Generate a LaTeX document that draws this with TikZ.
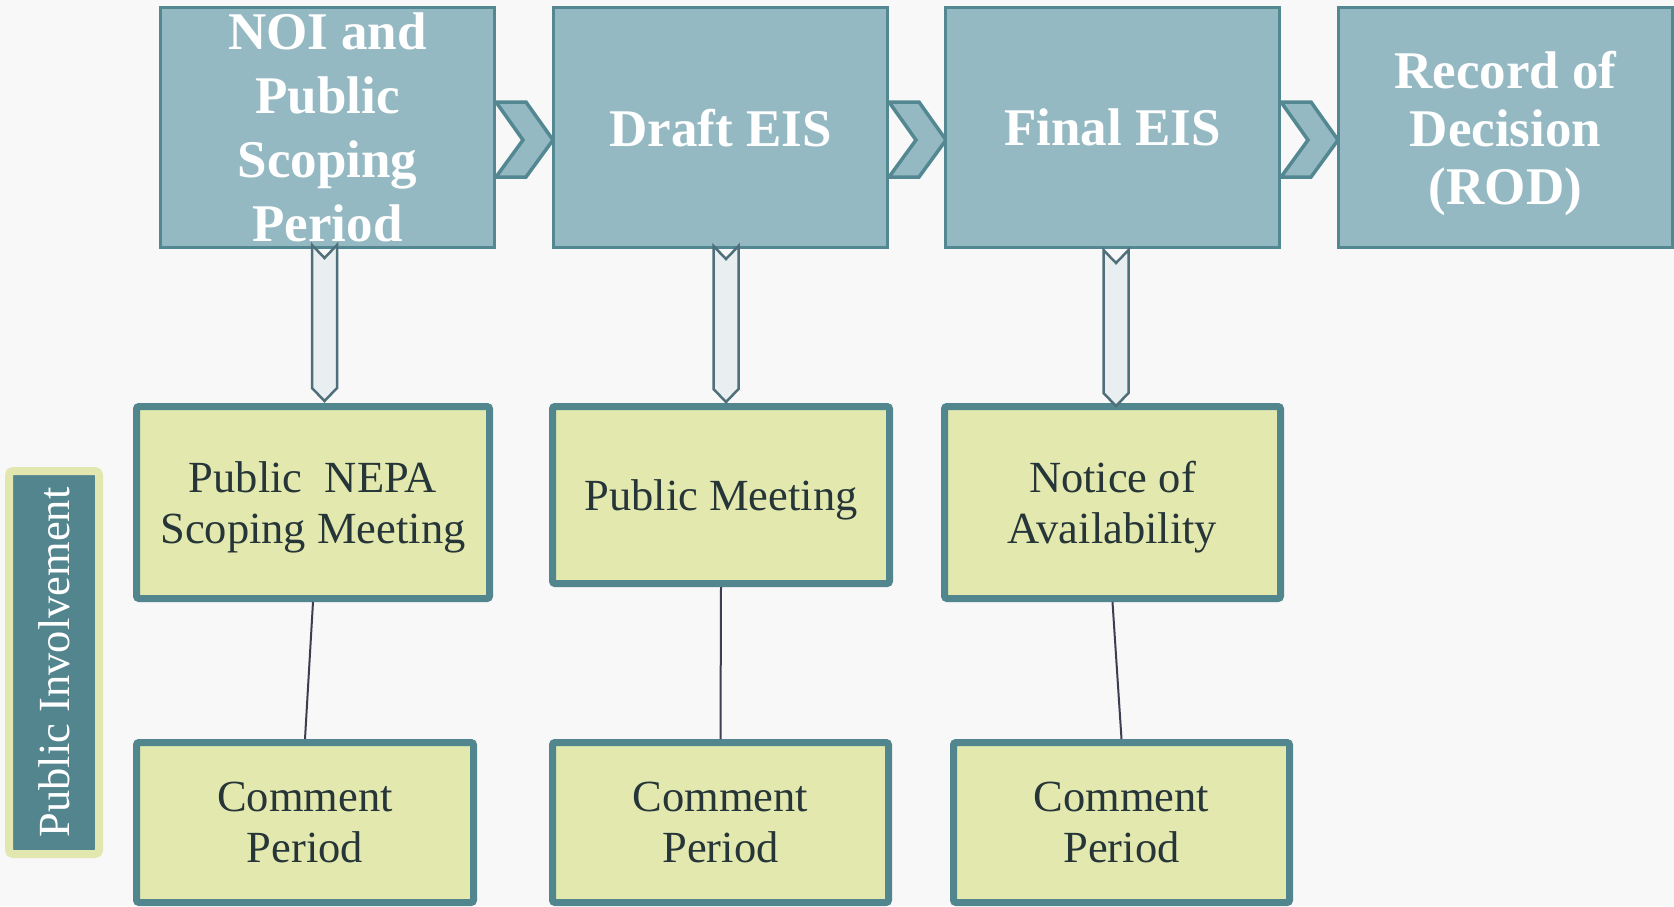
\documentclass[tikz,border=0pt]{standalone}
\usepackage{fontspec}
\setmainfont{Liberation Serif}
\usetikzlibrary{calc}
\definecolor{topfill}{HTML}{95B9C2}
\definecolor{topline}{HTML}{538892}
\definecolor{midfill}{HTML}{E3E8AE}
\definecolor{midline}{HTML}{52868F}
\definecolor{txtcol}{HTML}{263538}
\definecolor{arrfill}{HTML}{E9EEF0}
\definecolor{arrline}{HTML}{4F6F7A}
\definecolor{conncol}{HTML}{3C3F50}
\definecolor{bgcol}{HTML}{F8F8F8}
\definecolor{sidefill}{HTML}{53858F}
\definecolor{sideline}{HTML}{E2E7AF}
\begin{document}
\begin{tikzpicture}[x=1pt,y=-1pt,
  topbox/.style={draw=topline, fill=topfill, line width=3pt, minimum width=334pt, minimum height=240pt, inner sep=0pt},
  toptext/.style={text=white, font=\fontsize{53}{64}\selectfont\bfseries, align=center, inner sep=0pt, text depth=0pt},
  midbox/.style={draw=midline, fill=midfill, line width=7pt, rounded corners=2.5pt, inner sep=0pt, text=txtcol, font=\fontsize{44.5}{51}\selectfont, align=center, text depth=0pt},
  chev/.style={draw=topline, fill=topfill, line width=3.5pt, line join=miter},
  darrow/.style={draw=arrline, fill=arrfill, line width=2.5pt},
  connline/.style={draw=conncol, line width=2pt},
  chevron/.pic={\path[chev] (0,-38) -- (30,-38) -- (57,0) -- (30,37) -- (0,37) -- (27,0) -- cycle;},
  dnarrow/.pic={\path[darrow] (-12.5,0) -- (0,13) -- (12.5,0) -- (12.5,143) -- (0,156) -- (-12.5,143) -- cycle;}
]
\fill[bgcol] (0,0) rectangle (1674,906);
\useasboundingbox (0,0) rectangle (1674,906);

% top row boxes (positions only)
\coordinate (p1) at (327.5,127.5);
\coordinate (p2) at (720.5,127.5);
\coordinate (p3) at (1112.5,127.5);
\coordinate (p4) at (1505.5,127.5);

% chevrons first (under boxes)
\path (p1) ++(168.5,12.5) coordinate (c1);
\path (p2) ++(168.5,12.5) coordinate (c2);
\path (p3) ++(168.5,12.5) coordinate (c3);
\pic at (c1) {chevron};
\pic at (c2) {chevron};
\pic at (c3) {chevron};

\node[topbox] (t1) at (p1) {};
\node[topbox] (t2) at (p2) {};
\node[topbox] (t3) at (p3) {};
\node[topbox] (t4) at (p4) {};

\node[toptext] (t1txt) at (t1.center) {NOI and\\Public\\Scoping\\Period};
\node[toptext] (t2txt) at (t2.center) {Draft EIS};
\node[toptext] (t3txt) at (t3.center) {Final EIS};
\node[toptext, font=\fontsize{53}{58}\selectfont\bfseries] (t4txt) at (t4.center) {Record of\\Decision\\(ROD)};

% middle row
\node[midbox, minimum width=353pt, minimum height=192pt] (m1) at (313,502.5) {Public\ \ NEPA\\Scoping Meeting};
\node[midbox, minimum width=337pt, minimum height=177pt] (m2) at (721,495) {Public Meeting};
\node[midbox, minimum width=336pt, minimum height=192pt] (m3) at (1112.5,502.5) {Notice of\\Availability};

% bottom row
\node[midbox, minimum width=337pt, minimum height=160pt] (b1) at (305,822.5) {Comment\\Period};
\node[midbox, minimum width=336pt, minimum height=160pt] (b2) at (720.5,822.5) {Comment\\Period};
\node[midbox, minimum width=336pt, minimum height=160pt] (b3) at (1121.5,822.5) {Comment\\Period};

% connectors
\draw[connline] (m1.south) -- (b1.north);
\draw[connline] (m2.south) -- (b2.north);
\draw[connline] (m3.south) -- (b3.north);

% down block arrows
\coordinate (a1) at (324.5,245);
\coordinate (a2) at (726,246);
\coordinate (a3) at (1116,250);
\pic at (a1) {dnarrow};
\pic at (a2) {dnarrow};
\pic at (a3) {dnarrow};

% side label
\node[draw=sideline, fill=sidefill, line width=8pt, rounded corners=4pt,
      minimum width=90pt, minimum height=383pt, inner sep=0pt] (side) at (54,662.5) {};
\node[rotate=90, text=white, font=\fontsize{44.5}{50}\selectfont, inner sep=0pt] (sidetxt) at (side.center) {Public Involvement};
\end{tikzpicture}
\end{document}
